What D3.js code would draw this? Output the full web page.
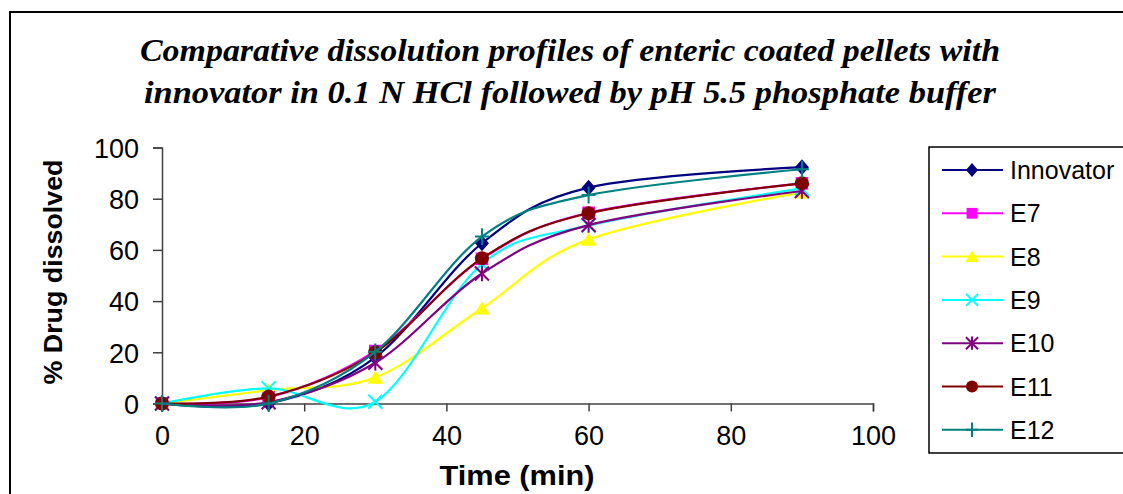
<!DOCTYPE html>
<html><head><meta charset="utf-8">
<script src="https://cdn.jsdelivr.net/npm/d3@7"></script>
<style>html,body{margin:0;padding:0;background:#fff;overflow:hidden}</style>
</head><body>
<svg id="chart" width="1123" height="494"></svg>
<script>
const times = [0, 15, 30, 45, 60, 90];
const seriesNames = ["Innovator", "E7", "E8", "E9", "E10", "E11", "E12"];
const innovator = [0, 0, 18, 62.6, 84.3, 92.3];
const e7  = [0, 2.5, 20.5, 56.5, 74.5, 86.0];
const e8  = [0, 5.2, 10.2, 37.2, 64.1, 82.5];
const e9  = [0, 5.9, 0.7, 54.5, 69.5, 84.0];
const e10 = [0, 0.5, 15.9, 50.8, 69.7, 83.0];
const e11 = [0, 2.7, 20.0, 56.7, 74.3, 86.0];
const e12 = [0, 0, 20.2, 65.2, 81.4, 91.5];
const seriesValues = [innovator, e7, e8, e9, e10, e11, e12];
const colors = ["#000080", "#FF00FF", "#FFFF00", "#00FFFF", "#800080", "#800000", "#008080"];
const markers = ["diamond", "square", "triangle", "x", "asterisk", "circle", "plus"];
const xTicks = [0, 20, 40, 60, 80, 100];
const yTicks = [0, 20, 40, 60, 80, 100];
const titleLines = ["Comparative dissolution profiles of enteric coated pellets with",
                    "innovator in 0.1 N HCl followed by pH 5.5  phosphate buffer"];

const svg = d3.select("#chart");
const x = d3.scaleLinear().domain([0, 100]).range([162, 873]);
const y = d3.scaleLinear().domain([0, 100]).range([403.5, 147.5]);

// outer frame
svg.append("path").attr("d", "M10,500 V12 H1130").attr("fill", "none")
  .attr("stroke", "#000").attr("stroke-width", 2);

// title
titleLines.forEach((t, i) => {
  svg.append("text").attr("x", 570).attr("y", [61, 103][i])
    .attr("text-anchor", "middle")
    .attr("font-family", "'Liberation Serif','Times New Roman',serif")
    .attr("font-weight", "bold").attr("font-style", "italic")
    .attr("font-size", 31)
    .attr("textLength", [860, 852][i]).attr("lengthAdjust", "spacingAndGlyphs")
    .text(t);
});

// axes
const xAxis = svg.append("g").attr("transform", `translate(0,${y(0)})`)
  .call(d3.axisBottom(x).tickValues(xTicks).tickSize(8).tickPadding(14).tickFormat(d3.format("d")));
const yAxis = svg.append("g").attr("transform", `translate(${x(0)},0)`)
  .call(d3.axisLeft(y).tickValues(yTicks).tickSize(9).tickPadding(14).tickFormat(d3.format("d")));
[xAxis, yAxis].forEach(a => {
  a.select(".domain").attr("stroke", "#404040").attr("stroke-width", 1.5);
  a.selectAll(".tick line").attr("stroke", "#404040").attr("stroke-width", 1.5);
  a.selectAll(".tick text").attr("font-family", "'Liberation Sans',Arial,sans-serif")
    .attr("font-size", 27).attr("fill", "#000");
});
xAxis.selectAll(".tick text").attr("dy", "0.71em");
yAxis.selectAll(".tick text").attr("dy", "0.36em");

// axis labels
svg.append("text").attr("x", 517).attr("y", 485).attr("text-anchor", "middle")
  .attr("font-family", "'Liberation Sans',Arial,sans-serif").attr("font-weight", "bold")
  .attr("font-size", 27).attr("textLength", 155).attr("lengthAdjust", "spacingAndGlyphs")
  .text("Time (min)");
svg.append("text").attr("transform", "translate(62,272) rotate(-90)").attr("text-anchor", "middle")
  .attr("font-family", "'Liberation Sans',Arial,sans-serif").attr("font-weight", "bold")
  .attr("font-size", 26).attr("textLength", 225).attr("lengthAdjust", "spacingAndGlyphs")
  .text("% Drug dissolved");

function drawMarker(g, type, color, s) {
  const h = s / 2;
  if (type === "diamond") g.append("path").attr("d", `M0,${-h*1.15}L${h},0L0,${h*1.15}L${-h},0Z`).attr("fill", color);
  else if (type === "square") g.append("rect").attr("x", -h*0.9).attr("y", -h*0.9).attr("width", h*1.8).attr("height", h*1.8).attr("fill", color);
  else if (type === "triangle") g.append("path").attr("d", `M0,${-h}L${h*1.1},${h*0.9}L${-h*1.1},${h*0.9}Z`).attr("fill", color);
  else if (type === "circle") g.append("circle").attr("r", h).attr("fill", color);
  else if (type === "x") g.append("path").attr("d", `M${-h},${-h}L${h},${h}M${-h},${h}L${h},${-h}`).attr("stroke", color).attr("stroke-width", 2);
  else if (type === "asterisk") g.append("path").attr("d", `M${-h},${-h}L${h},${h}M${-h},${h}L${h},${-h}M0,${-h*1.1}L0,${h*1.1}`).attr("stroke", color).attr("stroke-width", 2);
  else if (type === "plus") g.append("path").attr("d", `M${-h},0L${h},0M0,${-h*1.2}L0,${h*1.2}`).attr("stroke", color).attr("stroke-width", 2);
}

const line = d3.line().x(d => x(d[0])).y(d => y(d[1])).curve(d3.curveCardinal.tension(0));

seriesValues.forEach((vals, i) => {
  const pts = times.map((t, j) => [t, vals[j]]);
  const g = svg.append("g");
  g.append("path").attr("d", line(pts)).attr("fill", "none")
    .attr("stroke", colors[i]).attr("stroke-width", 2.2);
  pts.forEach(p => {
    const mg = g.append("g").attr("transform", `translate(${x(p[0])},${y(p[1])})`);
    drawMarker(mg, markers[i], colors[i], 14);
  });
});

// legend
svg.append("rect").attr("x", 929).attr("y", 147).attr("width", 220).attr("height", 306)
  .attr("fill", "#fff").attr("stroke", "#000").attr("stroke-width", 1.5);
seriesNames.forEach((name, i) => {
  const ly = 170 + i * 43.3;
  svg.append("line").attr("x1", 942).attr("x2", 1003).attr("y1", ly).attr("y2", ly)
    .attr("stroke", colors[i]).attr("stroke-width", 2);
  const mg = svg.append("g").attr("transform", `translate(972,${ly})`);
  drawMarker(mg, markers[i], colors[i], 12);
  svg.append("text").attr("x", 1010).attr("y", ly).attr("dy", "0.36em")
    .attr("font-family", "'Liberation Sans',Arial,sans-serif").attr("font-size", 25)
    .text(name);
});
</script>
</body></html>
